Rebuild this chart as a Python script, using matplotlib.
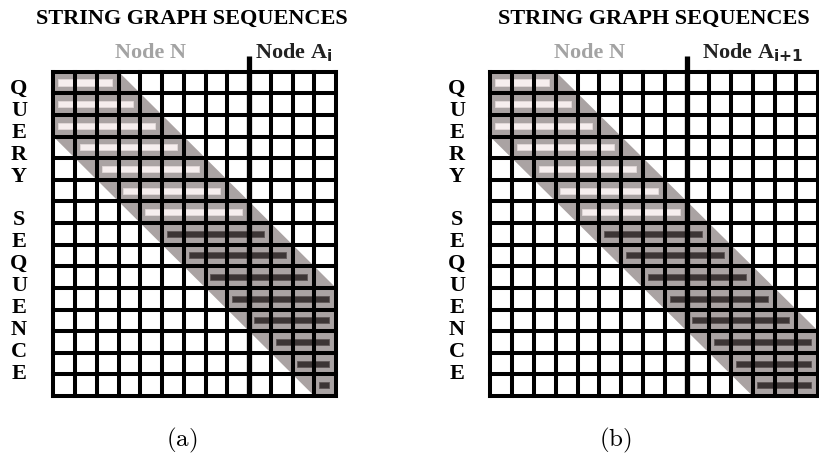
import matplotlib
matplotlib.use('Agg')
import matplotlib.pyplot as plt
from matplotlib.patches import Polygon, Rectangle


# figure size in pixels
W, H = 820, 466

# grid sizes: rows x columns, Node N takes the first 9 columns
NROWS = 15
LEFT_NCOLS = 13
RIGHT_NCOLS = 15
NODE_N_COLS = 9
BAND_HALF = 3   # half width of the gray diagonal band, in cells

# alignment bars per row (first cell, last cell + 1)
left_bar_start = [0, 0, 0, 1, 2, 3, 4, 5, 6, 7, 8, 9, 10, 11, 12]
left_bar_end = [3, 4, 5, 6, 7, 8, 9, 10, 11, 12, 13, 13, 13, 13, 13]
right_bar_start = [0, 0, 0, 1, 2, 3, 4, 5, 6, 7, 8, 9, 10, 11, 12]
right_bar_end = [3, 4, 5, 6, 7, 8, 9, 10, 11, 12, 13, 14, 15, 15, 15]
bar_kind = ['light'] * 7 + ['dark'] * 8

row_letters = ['Q', 'U', 'E', 'R', 'Y', '', 'S', 'E', 'Q', 'U', 'E', 'N', 'C', 'E']

TITLE = 'STRING GRAPH SEQUENCES'
left_node_label = r'Node A$_{\mathbf{i}}$'
right_node_label = r'Node A$_{\mathbf{i{+}1}}$'
panel_labels = ['(a)', '(b)']

BAND_COLOR = '#aaa3a3'
LIGHT_BAR = '#f6eeee'
DARK_BAR = '#3c3535'
SERIF = ['Liberation Serif', 'DejaVu Serif']


def DrawPanel(fig, rect, ncols, barStart, barEnd):
    '''
    Draws one string graph grid: band, alignment bars and the black cell grid.
    '''
    ax = fig.add_axes(rect)
    ax.set_xlim(0, ncols)
    ax.set_ylim(NROWS, 0)
    ax.axis('off')

    # gray diagonal band
    band = Polygon([(BAND_HALF, 0), (NROWS + BAND_HALF, NROWS),
                    (NROWS - BAND_HALF, NROWS), (-BAND_HALF, 0)],
                   closed=True, facecolor=BAND_COLOR, edgecolor='none', zorder=1)
    ax.add_patch(band)
    band.set_clip_path(Rectangle((0, 0), ncols, NROWS, transform=ax.transData))

    # alignment bars
    for r in range(NROWS):
        if bar_kind[r] == 'light':
            fc, ec = LIGHT_BAR, '#e2d9d9'
        else:
            fc, ec = DARK_BAR, '#5e5656'
        x0 = barStart[r] + 0.22
        x1 = barEnd[r] - 0.32
        ax.add_patch(Rectangle((x0, r + 0.36), x1 - x0, 0.28, facecolor=fc,
                               edgecolor=ec, linewidth=0.6, zorder=2))

    # cell grid
    for i in range(ncols + 1):
        ax.plot([i, i], [0, NROWS], color='black', lw=2.9,
                solid_capstyle='projecting', clip_on=False, zorder=3)
    for j in range(NROWS + 1):
        ax.plot([0, ncols], [j, j], color='black', lw=2.9,
                solid_capstyle='projecting', clip_on=False, zorder=3)

    # divider between Node N and Node A
    ax.plot([NODE_N_COLS, NODE_N_COLS], [-0.72, NROWS], color='black', lw=3.8,
            solid_capstyle='butt', clip_on=False, zorder=4)
    return ax


def FigText(fig, x, y, s, **kw):
    # x, y in pixels from top left
    fig.text(x / W, 1 - y / H, s, **kw)


fig = plt.figure(figsize=(W / 100, H / 100), dpi=100)

gridTop, gridBottom = 71.7, 396.0
bottom = 1 - gridBottom / H
height = (gridBottom - gridTop) / H

DrawPanel(fig, [53.3 / W, bottom, (336.0 - 53.3) / W, height],
          LEFT_NCOLS, left_bar_start, left_bar_end)
DrawPanel(fig, [490.0 / W, bottom, (818.3 - 490.0) / W, height],
          RIGHT_NCOLS, right_bar_start, right_bar_end)

# titles
FigText(fig, 192, 19, TITLE, ha='center', va='center', fontsize=16,
        fontweight='bold', family=SERIF)
FigText(fig, 654, 19, TITLE, ha='center', va='center', fontsize=16,
        fontweight='bold', family=SERIF)

# node labels
FigText(fig, 151, 53, 'Node N', ha='center', va='center', fontsize=16,
        fontweight='bold', family=SERIF, color='#a3a3a3')
FigText(fig, 590, 53, 'Node N', ha='center', va='center', fontsize=16,
        fontweight='bold', family=SERIF, color='#a3a3a3')
FigText(fig, 255, 53, left_node_label, ha='left', va='center', fontsize=16,
        fontweight='bold', family=SERIF, color='#222222')
FigText(fig, 702, 53, right_node_label, ha='left', va='center', fontsize=16,
        fontweight='bold', family=SERIF, color='#222222')

# QUERY SEQUENCE letters down the side
for k, letter in enumerate(row_letters):
    y = 89 + k * 21.9
    FigText(fig, 19, y, letter, ha='center', va='center', fontsize=16,
            fontweight='bold', family=SERIF)
    FigText(fig, 457, y, letter, ha='center', va='center', fontsize=16,
            fontweight='bold', family=SERIF)

# panel captions
FigText(fig, 182, 440, r'$\mathrm{' + panel_labels[0] + '}$', ha='center',
        va='center', fontsize=18, math_fontfamily='cm')
FigText(fig, 615, 440, r'$\mathrm{' + panel_labels[1] + '}$', ha='center',
        va='center', fontsize=18, math_fontfamily='cm')

fig.savefig('out.png', dpi=100)
